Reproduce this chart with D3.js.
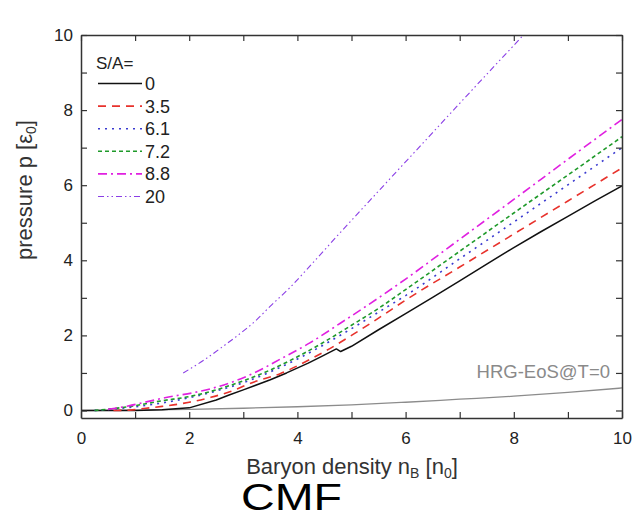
<!DOCTYPE html>
<html>
<head>
<meta charset="utf-8">
<script src="https://cdn.jsdelivr.net/npm/d3@7"></script>
<style>
  html, body { margin: 0; padding: 0; background: #fff; }
  svg { display: block; font-family: "Liberation Sans", Arial, Helvetica, sans-serif; }
</style>
</head>
<body>
<svg id="chart" width="634" height="519"></svg>
<script>
// Pressure vs baryon density along isentropes (S/A), CMF model
const entropyLabels = ["0", "3.5", "6.1", "7.2", "8.8", "20"];

const nB_s0 = [0, 1, 1.5, 2, 2.5, 2.75, 3, 3.5, 3.8, 4.2, 4.45, 4.72, 4.8, 5.0, 5.5, 6, 6.5, 7, 7.5, 8, 8.5, 9, 9.5, 10];
const p_s0  = [0, 0, 0.02, 0.07, 0.28, 0.42, 0.55, 0.82, 1.0, 1.26, 1.44, 1.64, 1.57, 1.71, 2.15, 2.58, 3.01, 3.45, 3.9, 4.34, 4.76, 5.17, 5.58, 5.98];

const nB_s35 = [0.6, 0.9, 1.2, 1.5, 1.85, 2.0, 2.4, 2.75, 3.2, 3.68, 4.23, 4.54, 5.0, 5.5, 6, 7, 8, 9, 10];
const p_s35  = [0, 0.01, 0.06, 0.11, 0.18, 0.22, 0.35, 0.5, 0.76, 0.98, 1.36, 1.6, 2.0, 2.46, 2.94, 3.82, 4.7, 5.58, 6.46];

const nB_s61 = [0.25, 0.6, 1.0, 1.5, 2.0, 2.5, 3.0, 3.5, 4.0, 4.5, 5.0, 5.5, 6, 7, 8, 9, 10];
const p_s61  = [0, 0.04, 0.1, 0.2, 0.34, 0.52, 0.74, 1.03, 1.37, 1.76, 2.18, 2.62, 3.06, 4.04, 5.02, 6.01, 7.0];

const nB_s72 = [0.25, 0.6, 1.0, 1.5, 2.0, 2.5, 3.0, 3.5, 4.0, 4.5, 5.0, 5.5, 6, 7, 8, 9, 10];
const p_s72  = [0, 0.05, 0.13, 0.26, 0.37, 0.55, 0.79, 1.08, 1.43, 1.83, 2.27, 2.72, 3.22, 4.24, 5.26, 6.27, 7.29];

const nB_s88 = [0.5, 0.87, 1.27, 1.55, 2.1, 2.45, 2.8, 3.2, 3.7, 4.23, 4.8, 5.5, 6, 7, 8, 9, 10];
const p_s88  = [0.03, 0.12, 0.25, 0.34, 0.48, 0.6, 0.76, 1.0, 1.38, 1.8, 2.33, 3.0, 3.5, 4.56, 5.62, 6.69, 7.75];

const nB_s20 = [1.89, 2.26, 2.6, 2.88, 3.25, 3.5, 3.86, 4.17, 4.8, 5.53, 6.5, 7.4, 8.18];
const p_s20  = [1.0, 1.33, 1.68, 1.98, 2.42, 2.78, 3.27, 3.75, 4.75, 5.89, 7.4, 8.8, 10.0];

// hadron resonance gas reference at T = 0
const nB_hrg = [0, 1, 2, 3, 4, 5, 6, 7, 8, 9, 10];
const p_hrg  = [0, 0.01, 0.03, 0.06, 0.1, 0.15, 0.22, 0.3, 0.38, 0.48, 0.6];

const xTicks = [0, 1, 2, 3, 4, 5, 6, 7, 8, 9, 10];
const yTicks = [0, 1, 2, 3, 4, 5, 6, 7, 8, 9, 10];

const series = [
  { label: entropyLabels[0], x: nB_s0,  y: p_s0,  color: "#111111", width: 1.5, dash: null },
  { label: entropyLabels[1], x: nB_s35, y: p_s35, color: "#e8322c", width: 1.6, dash: "8,6" },
  { label: entropyLabels[2], x: nB_s61, y: p_s61, color: "#3a3ad0", width: 1.6, dash: "2,5" },
  { label: entropyLabels[3], x: nB_s72, y: p_s72, color: "#1f9a2a", width: 1.6, dash: "4,3" },
  { label: entropyLabels[4], x: nB_s88, y: p_s88, color: "#e020e0", width: 1.6, dash: "9,4,2,4" },
  { label: entropyLabels[5], x: nB_s20, y: p_s20, color: "#8a3ee6", width: 1.1, dash: "6,3,1.5,3,1.5,3" }
];

const svg = d3.select("#chart");
const plotLeft = 81, plotRight = 622, plotTop = 35, plotBottom = 418;

const x = d3.scaleLinear().domain([0, 10]).range([plotLeft, plotRight]);
const y = d3.scaleLinear().domain([-0.2, 10]).range([plotBottom, plotTop]);

svg.append("defs").append("clipPath").attr("id", "plot-clip")
  .append("rect").attr("x", plotLeft).attr("y", plotTop)
  .attr("width", plotRight - plotLeft).attr("height", plotBottom - plotTop);

const smooth = d3.line()
  .x(d => x(d[0])).y(d => y(d[1]))
  .curve(d3.curveMonotoneX);
// the S/A=0 isentrope has a sharp notch, so keep its segments straight
const straight = d3.line()
  .x(d => x(d[0])).y(d => y(d[1]));

const plot = svg.append("g").attr("clip-path", "url(#plot-clip)");

// HRG reference curve
plot.append("path")
  .datum(nB_hrg.map((v, i) => [v, p_hrg[i]]))
  .attr("d", smooth)
  .attr("fill", "none")
  .attr("stroke", "#8c8c8c")
  .attr("stroke-width", 1.3);

series.forEach((s, k) => {
  plot.append("path")
    .datum(s.x.map((v, i) => [v, s.y[i]]))
    .attr("d", k === 0 ? straight : smooth)
    .attr("fill", "none")
    .attr("stroke", s.color)
    .attr("stroke-width", s.width)
    .attr("stroke-linejoin", "round")
    .attr("stroke-dasharray", s.dash);
});

// Axes: ticks point inward on all four sides
const axisColor = "#333";
const fmt = d => (d % 2 === 0 ? d : "");

const gx = svg.append("g").attr("transform", `translate(0,${plotBottom})`)
  .call(d3.axisBottom(x).tickValues(xTicks).tickFormat(fmt).tickSizeInner(-6).tickSizeOuter(0).tickPadding(14));
const gxt = svg.append("g").attr("transform", `translate(0,${plotTop})`)
  .call(d3.axisTop(x).tickValues(xTicks).tickFormat("").tickSizeInner(-6).tickSizeOuter(0));
const gy = svg.append("g").attr("transform", `translate(${plotLeft},0)`)
  .call(d3.axisLeft(y).tickValues(yTicks).tickFormat(fmt).tickSizeInner(-6).tickSizeOuter(0).tickPadding(8));
const gyr = svg.append("g").attr("transform", `translate(${plotRight},0)`)
  .call(d3.axisRight(y).tickValues(yTicks).tickFormat("").tickSizeInner(-6).tickSizeOuter(0));

[gx, gxt, gy, gyr].forEach(g => {
  g.select(".domain").attr("stroke", axisColor).attr("stroke-width", 1.5);
  g.selectAll(".tick line").attr("stroke", axisColor).attr("stroke-width", 1.2);
  g.selectAll(".tick text").attr("fill", "#222").style("font-size", "17px")
    .style("font-family", '"Liberation Sans", Arial, sans-serif');
});

// Axis titles
const xt = svg.append("text")
  .attr("x", 352).attr("y", 474)
  .attr("text-anchor", "middle")
  .attr("fill", "#333")
  .style("font-size", "22px");
xt.append("tspan").text("Baryon density n");
xt.append("tspan").attr("dy", 4).style("font-size", "14px").text("B");
xt.append("tspan").attr("dy", -4).text(" [n");
xt.append("tspan").attr("dy", 4).style("font-size", "14px").text("0");
xt.append("tspan").attr("dy", -4).text("]");

const yt = svg.append("text")
  .attr("transform", "translate(32,190) rotate(-90)")
  .attr("text-anchor", "middle")
  .attr("fill", "#333")
  .style("font-size", "22px");
yt.append("tspan").text("pressure p [ε");
yt.append("tspan").attr("dy", 4).style("font-size", "14px").text("0");
yt.append("tspan").attr("dy", -4).text("]");

// Reference curve label
svg.append("text")
  .attr("x", 610).attr("y", 378)
  .attr("text-anchor", "end")
  .attr("fill", "#8a8a8a")
  .style("font-size", "18.5px")
  .text("HRG-EoS@T=0");

// Legend
const legend = svg.append("g");
legend.append("text")
  .attr("x", 96).attr("y", 69)
  .attr("fill", "#222")
  .style("font-size", "17px")
  .text("S/A=");
series.forEach((s, i) => {
  const ly = 83.5 + i * 22.6;
  legend.append("line")
    .attr("x1", 98).attr("x2", 142)
    .attr("y1", ly).attr("y2", ly)
    .attr("stroke", s.color)
    .attr("stroke-width", s.width)
    .attr("stroke-dasharray", s.dash);
  legend.append("text")
    .attr("x", 145).attr("y", ly + 6.5)
    .attr("fill", "#222")
    .style("font-size", "18px")
    .text(s.label);
});

// Model name
svg.append("text")
  .attr("x", 241).attr("y", 510)
  .attr("textLength", 101)
  .attr("lengthAdjust", "spacingAndGlyphs")
  .attr("fill", "#000")
  .style("font-size", "37px")
  .text("CMF");
</script>
</body>
</html>
